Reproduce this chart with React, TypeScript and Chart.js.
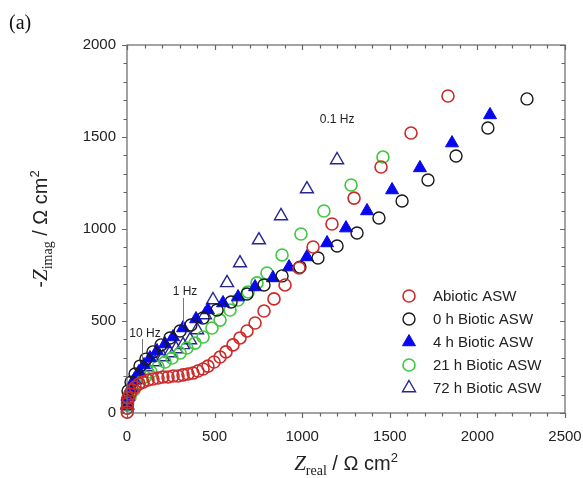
import React, { useEffect, useRef } from 'react';
import { Chart, registerables } from 'chart.js';

Chart.register(...registerables);

// ---- Data (Z_real, -Z_imag in Ω cm²) ----
const abioticReal = [1, 2, 3, 6, 17, 29, 46, 68, 91, 120, 148, 177, 205, 234, 263, 291, 320, 348, 377, 405, 434, 462, 497, 531, 565, 605, 645, 685, 731, 782, 839, 902, 982, 1062, 1170, 1296, 1450, 1621, 1832];
const abioticImag = [5, 27, 54, 82, 103, 125, 141, 158, 168, 179, 185, 190, 196, 196, 201, 201, 207, 212, 217, 228, 239, 255, 277, 304, 332, 370, 408, 446, 489, 554, 620, 696, 788, 902, 1027, 1168, 1337, 1522, 1723];

const biotic0Real = [1, 3, 6, 23, 46, 74, 108, 148, 194, 245, 303, 365, 434, 514, 594, 685, 782, 885, 987, 1090, 1199, 1313, 1438, 1570, 1718, 1878, 2060, 2283];
const biotic0Imag = [27, 71, 120, 168, 212, 255, 293, 332, 370, 408, 446, 478, 516, 560, 603, 647, 696, 745, 793, 842, 908, 978, 1060, 1152, 1266, 1397, 1549, 1707];

const biotic4Real = [2, 6, 23, 40, 68, 97, 131, 171, 217, 263, 320, 394, 462, 548, 634, 731, 833, 925, 1027, 1142, 1250, 1370, 1513, 1672, 1855, 2072];
const biotic4Imag = [38, 87, 136, 179, 223, 261, 299, 337, 375, 413, 462, 511, 560, 598, 630, 685, 734, 793, 848, 924, 1005, 1098, 1212, 1332, 1467, 1620];

const biotic21Real = [3, 17, 40, 68, 103, 137, 177, 217, 257, 303, 342, 388, 434, 485, 531, 588, 634, 691, 742, 799, 885, 993, 1124, 1279, 1461];
const biotic21Imag = [43, 87, 125, 163, 196, 223, 250, 277, 299, 326, 353, 380, 413, 462, 505, 560, 614, 658, 707, 761, 859, 973, 1098, 1239, 1391];

const biotic72Real = [2, 6, 23, 46, 74, 114, 160, 205, 245, 280, 320, 360, 400, 445, 491, 571, 645, 753, 879, 1027, 1199];
const biotic72Imag = [43, 92, 136, 179, 217, 250, 277, 304, 326, 348, 370, 397, 451, 533, 614, 707, 815, 940, 1071, 1217, 1375];

const seriesLabels = ['Abiotic ASW', '0 h Biotic ASW', '4 h Biotic ASW', '21 h Biotic ASW', '72 h Biotic ASW'];

const xTickValues = [0, 500, 1000, 1500, 2000, 2500];
const yTickValues = [0, 500, 1000, 1500, 2000];
const minorStep = 100;

// frequency annotations (data coordinates)
const freqLabels = ['10 Hz', '1 Hz', '0.1 Hz'];
const freqLabelReal = [103, 331, 1199];
const freqLabelImag = [429, 658, 1592];
const freqLineReal = [86, 320, null];
const freqLineTop = [402, 625, null];
const freqLineBottom = [288, 478, null];

// ---- Styles ----
const RED = '#cc2a2a';
const BLACK = '#1a1a1a';
const BLUE = '#0808ee';
const GREEN = '#3fc83f';
const NAVY = '#26268e';
const SANS = '"Liberation Sans", Arial, sans-serif';
const SERIF = '"Liberation Serif", "Times New Roman", serif';

type Part = { t: string; f: string; dy: number };

function drawParts(ctx: CanvasRenderingContext2D, parts: Part[], cx: number, baseline: number) {
  let total = 0;
  const widths = parts.map((p) => {
    ctx.font = p.f;
    const w = ctx.measureText(p.t).width;
    total += w;
    return w;
  });
  let x = cx - total / 2;
  ctx.textAlign = 'left';
  ctx.textBaseline = 'alphabetic';
  parts.forEach((p, i) => {
    ctx.font = p.f;
    ctx.fillText(p.t, x, baseline + p.dy);
    x += widths[i];
  });
}

function drawMarker(ctx: CanvasRenderingContext2D, style: string, x: number, y: number, r: number, fill: string, stroke: string, lw: number) {
  ctx.beginPath();
  if (style === 'triangle') {
    let rad = 0;
    ctx.moveTo(x + Math.sin(rad) * r, y - Math.cos(rad) * r);
    rad += (2 * Math.PI) / 3;
    ctx.lineTo(x + Math.sin(rad) * r, y - Math.cos(rad) * r);
    rad += (2 * Math.PI) / 3;
    ctx.lineTo(x + Math.sin(rad) * r, y - Math.cos(rad) * r);
    ctx.closePath();
  } else {
    ctx.arc(x, y, r, 0, Math.PI * 2);
  }
  ctx.fillStyle = fill;
  ctx.fill();
  ctx.lineWidth = lw;
  ctx.strokeStyle = stroke;
  ctx.stroke();
}

const framePlugin = {
  id: 'framePlugin',
  afterDraw(chart: any) {
    const { ctx, chartArea: a, scales } = chart;
    const xs = scales.x;
    const ys = scales.y;
    ctx.save();
    ctx.strokeStyle = '#666';
    ctx.lineWidth = 1.2;
    ctx.strokeRect(a.left, a.top, a.right - a.left, a.bottom - a.top);
    ctx.beginPath();
    for (let v = xs.min; v <= xs.max + 0.001; v += minorStep) {
      const px = Math.round(xs.getPixelForValue(v)) + 0.5;
      const len = v % 500 === 0 ? 5 : 3.5;
      ctx.moveTo(px, a.bottom);
      ctx.lineTo(px, a.bottom + len);
      ctx.moveTo(px, a.top);
      ctx.lineTo(px, a.top + len);
    }
    for (let v = ys.min; v <= ys.max + 0.001; v += minorStep) {
      const py = Math.round(ys.getPixelForValue(v)) + 0.5;
      const len = v % 500 === 0 ? 5 : 3.5;
      ctx.moveTo(a.left - len, py);
      ctx.lineTo(a.left, py);
      ctx.moveTo(a.right - len, py);
      ctx.lineTo(a.right, py);
    }
    ctx.stroke();

    // frequency annotations
    ctx.fillStyle = '#222';
    ctx.font = '12px ' + SANS;
    ctx.textAlign = 'center';
    ctx.textBaseline = 'middle';
    freqLabels.forEach((lab, i) => {
      ctx.fillText(lab, xs.getPixelForValue(freqLabelReal[i]), ys.getPixelForValue(freqLabelImag[i]));
      const lr = freqLineReal[i];
      if (lr !== null) {
        const lx = Math.round(xs.getPixelForValue(lr)) + 0.5;
        ctx.beginPath();
        ctx.strokeStyle = '#777';
        ctx.lineWidth = 1;
        ctx.moveTo(lx, ys.getPixelForValue(freqLineTop[i] as number));
        ctx.lineTo(lx, ys.getPixelForValue(freqLineBottom[i] as number));
        ctx.stroke();
      }
    });

    // legend
    const mx = a.right - 156;
    const ty = a.top + 251;
    chart.data.datasets.forEach((ds: any, i: number) => {
      const y = ty + i * 23;
      drawMarker(ctx, ds.pointStyle, mx, y, ds.pointRadius, ds.pointBackgroundColor, ds.pointBorderColor, ds.pointBorderWidth);
      ctx.fillStyle = '#222';
      ctx.font = '15px ' + SANS;
      ctx.textAlign = 'left';
      ctx.textBaseline = 'middle';
      ctx.fillText(ds.label, mx + 24, y + 1);
    });

    // axis titles
    ctx.fillStyle = '#222';
    const cx = (a.left + a.right) / 2;
    drawParts(ctx, [
      { t: 'Z', f: 'italic 21px ' + SERIF, dy: 0 },
      { t: 'real', f: '14px ' + SERIF, dy: 5 },
      { t: ' / Ω cm', f: '20px ' + SANS, dy: 0 },
      { t: '2', f: '13px ' + SANS, dy: -8 },
    ], cx, 470);

    ctx.save();
    ctx.translate(47, (a.top + a.bottom) / 2);
    ctx.rotate(-Math.PI / 2);
    drawParts(ctx, [
      { t: '-', f: '20px ' + SANS, dy: 0 },
      { t: 'Z', f: 'italic 21px ' + SERIF, dy: 0 },
      { t: 'imag', f: '14px ' + SERIF, dy: 5 },
      { t: ' / Ω cm', f: '20px ' + SANS, dy: 0 },
      { t: '2', f: '13px ' + SANS, dy: -8 },
    ], 0, 0);
    ctx.restore();

    // panel label
    ctx.font = '20px ' + SERIF;
    ctx.textAlign = 'left';
    ctx.textBaseline = 'alphabetic';
    ctx.fillStyle = '#111';
    ctx.fillText('(a)', 9, 29);
    ctx.restore();
  },
};

const toPoints = (xs: number[], ys: number[]) => xs.map((x, i) => ({ x, y: ys[i] }));

function mkSet(label: string, xs: number[], ys: number[], style: string, radius: number, stroke: string, fill: string, lw: number) {
  return {
    label,
    data: toPoints(xs, ys),
    showLine: false,
    clip: false,
    pointStyle: style,
    pointRadius: radius,
    pointHoverRadius: radius,
    pointBorderColor: stroke,
    pointBackgroundColor: fill,
    pointBorderWidth: lw,
    borderColor: stroke,
    backgroundColor: fill,
  };
}

export default function App() {
  const ref = useRef<HTMLCanvasElement | null>(null);
  useEffect(() => {
    if (!ref.current) return;
    const chart = new Chart(ref.current, {
      type: 'scatter',
      data: {
        datasets: [
          mkSet(seriesLabels[0], abioticReal, abioticImag, 'circle', 6, RED, 'rgba(0,0,0,0)', 1.6),
          mkSet(seriesLabels[1], biotic0Real, biotic0Imag, 'circle', 6, BLACK, 'rgba(0,0,0,0)', 1.4),
          mkSet(seriesLabels[2], biotic4Real, biotic4Imag, 'triangle', 7.5, BLUE, BLUE, 1),
          mkSet(seriesLabels[3], biotic21Real, biotic21Imag, 'circle', 6, GREEN, 'rgba(0,0,0,0)', 1.6),
          mkSet(seriesLabels[4], biotic72Real, biotic72Imag, 'triangle', 7.5, NAVY, 'rgba(0,0,0,0)', 1.4),
        ] as any,
      },
      options: {
        animation: false,
        responsive: false,
        devicePixelRatio: 1,
        layout: { padding: { left: 0, right: 18, top: 45, bottom: 0 } },
        plugins: { legend: { display: false }, tooltip: { enabled: false } },
        scales: {
          x: {
            type: 'linear',
            min: 0,
            max: 2500,
            afterBuildTicks: (s: any) => { s.ticks = xTickValues.map((v) => ({ value: v })); },
            afterFit: (s: any) => { s.height = 65; s.paddingLeft = 0; s.paddingRight = 0; },
            ticks: { callback: (v: any) => String(v), font: { family: SANS, size: 15 }, color: '#222', padding: 15, maxRotation: 0, autoSkip: false },
            grid: { display: false, drawTicks: false },
            border: { display: false },
          },
          y: {
            type: 'linear',
            min: 0,
            max: 2000,
            afterBuildTicks: (s: any) => { s.ticks = yTickValues.map((v) => ({ value: v })); },
            afterFit: (s: any) => { s.width = 127; s.paddingTop = 0; s.paddingBottom = 0; },
            ticks: { callback: (v: any) => String(v), font: { family: SANS, size: 15 }, color: '#222', padding: 11, autoSkip: false },
            grid: { display: false, drawTicks: false },
            border: { display: false },
          },
        },
      } as any,
      plugins: [framePlugin],
    });
    return () => chart.destroy();
  }, []);
  return (
    <div style={{ position: 'absolute', left: 0, top: 0, width: 583, height: 478, background: '#fff' }}>
      <canvas ref={ref} width={583} height={478} style={{ width: 583, height: 478, display: 'block' }} />
    </div>
  );
}
